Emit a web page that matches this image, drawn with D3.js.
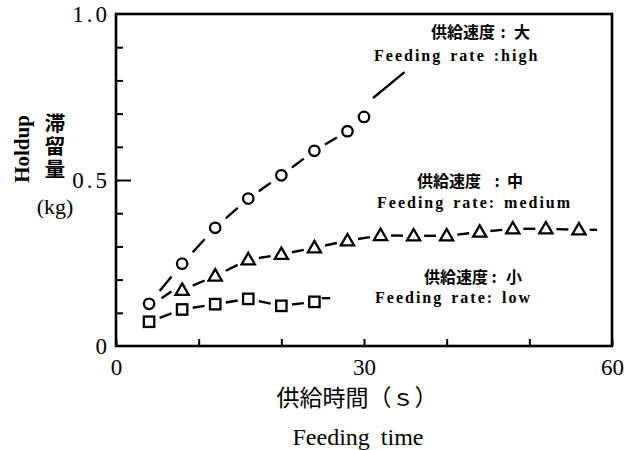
<!DOCTYPE html>
<html>
<head>
<meta charset="utf-8">
<script src="https://cdn.jsdelivr.net/npm/d3@7"></script>
<style>
  html, body { margin: 0; padding: 0; background: #fff; }
  svg { display: block; }
  .serif { font-family: "Liberation Serif", "DejaVu Serif", serif; }
  .cjk { font-family: "Noto Sans CJK JP", "Noto Sans CJK SC", sans-serif; }
</style>
</head>
<body>
<svg id="chart" width="635" height="450"></svg>
<script>
// Holdup (kg) against feeding time (s) for three feeding rates
const timeHigh = [4, 8, 12, 16, 20, 24, 28, 30];
const holdHigh = [0.127, 0.248, 0.356, 0.444, 0.514, 0.588, 0.647, 0.69];

const timeMedium = [8, 12, 16, 20, 24, 28, 32, 36, 40, 44, 48, 52, 56];
const holdMedium = [0.168, 0.211, 0.26, 0.276, 0.296, 0.317, 0.333, 0.332, 0.332, 0.343, 0.353, 0.353, 0.35];

const timeLow = [4, 8, 12, 16, 20, 24];
const holdLow = [0.073, 0.11, 0.126, 0.142, 0.121, 0.133];

// extra dashes of the fitted curves beyond the measured points: [time, holdup]
const highTail = [[31.1, 0.747], [34.9, 0.825]];
const mediumLead = [[5.5, 0.144], [6.7, 0.164]];
const mediumTail = [[57.3, 0.35], [58.2, 0.35]];
const lowTail = [[24.9, 0.144], [25.9, 0.144]];

const xTicks = [0, 10, 20, 30, 40, 50, 60];
const xTickLabels = { 0: "0", 30: "30", 60: "60" };
const yTicks = [0, 0.1, 0.2, 0.3, 0.4, 0.5, 0.6, 0.7, 0.8, 0.9, 1.0];
const yTickLabels = { 0: "0", 0.5: "0.5", 1: "1.0" };

const svg = d3.select("#chart");
const plotLeft = 116, plotRight = 612, plotTop = 14, plotBottom = 346;

const x = d3.scaleLinear().domain([0, 60]).range([plotLeft, plotRight]);
const y = d3.scaleLinear().domain([0, 1]).range([plotBottom, plotTop]);

// frame
svg.append("rect")
  .attr("x", plotLeft).attr("y", plotTop)
  .attr("width", plotRight - plotLeft).attr("height", plotBottom - plotTop)
  .attr("fill", "none").attr("stroke", "#000").attr("stroke-width", 2.6);

// bottom axis: inward ticks, labels at 0, 30, 60
const xAxis = svg.append("g")
  .attr("transform", `translate(0,${plotBottom})`)
  .call(d3.axisBottom(x).tickValues(xTicks).tickSizeInner(-7).tickSizeOuter(0)
    .tickPadding(13).tickFormat(d => xTickLabels[d] || ""));
xAxis.select(".domain").remove();
xAxis.selectAll(".tick line").attr("stroke", "#000").attr("stroke-width", 2);
xAxis.selectAll(".tick text").attr("class", "serif").attr("font-size", 23).attr("fill", "#000");

// left axis: short ticks every 0.1, longer tick at 0.5
const yAxis = svg.append("g")
  .attr("transform", `translate(${plotLeft},0)`)
  .call(d3.axisLeft(y).tickValues(yTicks).tickSizeInner(-7).tickSizeOuter(0)
    .tickPadding(6).tickFormat(d => yTickLabels[Math.round(d * 10) / 10] || ""));
yAxis.select(".domain").remove();
yAxis.selectAll(".tick line")
  .attr("stroke", "#000").attr("stroke-width", 2)
  .attr("x2", d => Math.abs(d - 0.5) < 1e-9 ? 15 : 7);
yAxis.selectAll(".tick text")
  .attr("class", "serif").attr("font-size", 23).attr("fill", "#000")
  .attr("letter-spacing", 3);
yAxis.selectAll(".tick").filter(d => d === 1 || d === 0)
  .select("line").attr("stroke-width", 0);

// dashed fitted curves: one dash centred between neighbouring points
function dashesBetween(xs, ys) {
  const segs = [];
  for (let i = 0; i < xs.length - 1; i++) {
    const x0 = x(xs[i]), y0 = y(ys[i]), x1 = x(xs[i + 1]), y1 = y(ys[i + 1]);
    const len = Math.hypot(x1 - x0, y1 - y0) * 0.36;
    if (len < 10) continue;
    const f = 0.32;
    segs.push([[x0 + (x1 - x0) * f, y0 + (y1 - y0) * f], [x0 + (x1 - x0) * (1 - f), y0 + (y1 - y0) * (1 - f)]]);
  }
  return segs;
}
const toPx = seg => seg.map(p => [x(p[0]), y(p[1])]);

const lineG = svg.append("g")
  .attr("stroke", "#000").attr("stroke-width", 2.4).attr("fill", "none");
const allSegs = [
  ...dashesBetween(timeHigh, holdHigh), toPx(highTail),
  toPx(mediumLead), ...dashesBetween(timeMedium, holdMedium), toPx(mediumTail),
  ...dashesBetween(timeLow, holdLow), toPx(lowTail)
];
lineG.selectAll("path").data(allSegs).join("path").attr("d", d3.line());

// markers
const markG = svg.append("g").attr("stroke", "#000").attr("stroke-width", 2.3).attr("fill", "#fff");
markG.selectAll("circle.high").data(timeHigh.map((t, i) => [t, holdHigh[i]])).join("circle")
  .attr("class", "high")
  .attr("cx", d => x(d[0])).attr("cy", d => y(d[1])).attr("r", 5.2);
markG.selectAll("path.medium").data(timeMedium.map((t, i) => [t, holdMedium[i]])).join("path")
  .attr("class", "medium")
  .attr("transform", d => `translate(${x(d[0])},${y(d[1])})`)
  .attr("d", "M0,-6.8L6.6,4.6L-6.6,4.6Z");
markG.selectAll("rect.low").data(timeLow.map((t, i) => [t, holdLow[i]])).join("rect")
  .attr("class", "low")
  .attr("x", d => x(d[0]) - 5.2).attr("y", d => y(d[1]) - 5.2)
  .attr("width", 10.4).attr("height", 10.4);

// series labels: Japanese name, colon, rate word, then the English line
const notes = [
  { jp: "供給速度", rate: "大", en: "Feeding rate :high", jx: 431, cx: 503, rx: 514, jy: 38, ex: 374, ey: 61 },
  { jp: "供給速度", rate: "中", en: "Feeding rate: medium", jx: 417, cx: 497, rx: 507, jy: 187, ex: 377, ey: 208 },
  { jp: "供給速度", rate: "小", en: "Feeding rate: low", jx: 424, cx: 494, rx: 506, jy: 283, ex: 375, ey: 303 }
];
notes.forEach(n => {
  const t = svg.append("text").attr("class", "cjk").attr("y", n.jy)
    .attr("font-size", 16).attr("font-weight", 700).attr("fill", "#000");
  t.append("tspan").attr("x", n.jx).text(n.jp);
  t.append("tspan").attr("x", n.cx).attr("text-anchor", "middle").text(":");
  t.append("tspan").attr("x", n.rx).text(n.rate);
  svg.append("text").attr("class", "serif").attr("x", n.ex).attr("y", n.ey)
    .attr("font-size", 16).attr("font-weight", 700).attr("letter-spacing", 2)
    .attr("word-spacing", 2).attr("fill", "#000").text(n.en);
});

// axis titles
svg.append("text").attr("class", "serif")
  .attr("transform", "translate(29,149) rotate(-90)")
  .attr("text-anchor", "middle").attr("font-size", 21).attr("font-weight", 700)
  .attr("fill", "#000").text("Holdup");
svg.append("text").attr("class", "cjk")
  .attr("x", 55).attr("y", 113)
  .style("writing-mode", "vertical-rl")
  .attr("letter-spacing", 2.5)
  .attr("font-size", 20.5).attr("font-weight", 700)
  .attr("fill", "#000").text("滞留量");
svg.append("text").attr("class", "serif")
  .attr("x", 55).attr("y", 214).attr("text-anchor", "middle")
  .attr("font-size", 22).attr("fill", "#000").text("(kg)");

svg.append("text").attr("class", "cjk")
  .attr("x", 357).attr("y", 406).attr("text-anchor", "middle")
  .attr("font-size", 23).attr("fill", "#000").text("供給時間（ｓ）");
svg.append("text").attr("class", "serif")
  .attr("x", 358).attr("y", 445).attr("text-anchor", "middle")
  .attr("font-size", 24).attr("word-spacing", 5).attr("fill", "#000").text("Feeding time");
</script>
</body>
</html>
